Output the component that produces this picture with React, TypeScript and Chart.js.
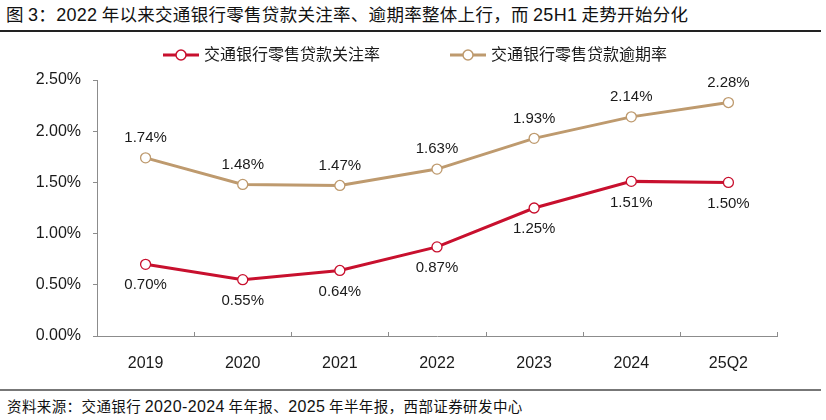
import React, { useEffect, useRef } from "react";
import { Chart, registerables } from "chart.js";

Chart.register(...registerables);

const categories = ["2019", "2020", "2021", "2022", "2023", "2024", "25Q2"];
const attentionRate = [0.7, 0.55, 0.64, 0.87, 1.25, 1.51, 1.5];
const overdueRate = [1.74, 1.48, 1.47, 1.63, 1.93, 2.14, 2.28];
const seriesNames = ["交通银行零售贷款关注率", "交通银行零售贷款逾期率"];
const yTicks = [0, 0.5, 1.0, 1.5, 2.0, 2.5];

const RED = "#C8102E";
const TAN = "#BE9A6E";
const AXIS = "#8c8c8c";
const LATIN = '"Liberation Sans", Arial, Helvetica, sans-serif';
const CJK = '"Liberation Sans", "Noto Sans CJK SC", sans-serif';

const labelPlugin = {
  id: "valueLabels",
  afterDatasetsDraw(chart: any) {
    const ctx = chart.ctx;
    ctx.save();
    ctx.font = `15px ${LATIN}`;
    ctx.fillStyle = "#1a1a1a";
    ctx.textAlign = "center";
    ctx.textBaseline = "middle";
    chart.data.datasets.forEach((ds: any, di: number) => {
      const meta = chart.getDatasetMeta(di);
      meta.data.forEach((pt: any, i: number) => {
        const v = ds.data[i] as number;
        const dy = di === 0 ? 21 : -20;
        ctx.fillText(v.toFixed(2) + "%", pt.x, pt.y + dy);
      });
    });
    ctx.restore();
  },
};

const xTickPlugin = {
  id: "inwardXTicks",
  afterDraw(chart: any) {
    const xs = chart.scales.x;
    const ctx = chart.ctx;
    const n = categories.length;
    ctx.save();
    ctx.strokeStyle = AXIS;
    ctx.lineWidth = 1;
    for (let i = 1; i <= n; i++) {
      let x: number;
      if (i === n) x = xs.right;
      else x = (xs.getPixelForValue(i - 1) + xs.getPixelForValue(i)) / 2;
      x = Math.round(x) + 0.5;
      ctx.beginPath();
      ctx.moveTo(x, xs.top);
      ctx.lineTo(x, xs.top - 4);
      ctx.stroke();
    }
    ctx.restore();
  },
};

const legendPlugin = {
  id: "customLegend",
  afterDraw(chart: any) {
    const ctx = chart.ctx;
    ctx.save();
    ctx.font = `16px ${CJK}`;
    ctx.textBaseline = "middle";
    const colors = [RED, TAN];
    const lineW = 36;
    const gap = 5;
    const itemGap = 70;
    const widths = seriesNames.map((s) => lineW + gap + ctx.measureText(s).width);
    const total = widths[0] + widths[1] + itemGap;
    let x = chart.width / 2 - total / 2 + 2;
    const y = 23;
    seriesNames.forEach((name, i) => {
      ctx.strokeStyle = colors[i];
      ctx.lineWidth = 3;
      ctx.beginPath();
      ctx.moveTo(x, y);
      ctx.lineTo(x + lineW, y);
      ctx.stroke();
      ctx.beginPath();
      ctx.fillStyle = "#fff";
      ctx.lineWidth = 1.5;
      ctx.arc(x + lineW / 2, y, 5, 0, Math.PI * 2);
      ctx.fill();
      ctx.stroke();
      ctx.fillStyle = "#1a1a1a";
      ctx.textAlign = "left";
      ctx.fillText(name, x + lineW + gap, y + 1);
      x += widths[i] + itemGap;
    });
    ctx.restore();
  },
};

const num = (t: string, size: number) => (
  <span style={{ fontFamily: LATIN, fontSize: size }}>{t}</span>
);

export default function App() {
  const ref = useRef<HTMLCanvasElement | null>(null);

  useEffect(() => {
    if (!ref.current) return;
    const chart = new Chart(ref.current, {
      type: "line",
      data: {
        labels: categories,
        datasets: [
          {
            label: seriesNames[0],
            data: attentionRate,
            borderColor: RED,
            borderWidth: 3,
            pointRadius: 5,
            pointBackgroundColor: "#fff",
            pointBorderColor: RED,
            pointBorderWidth: 1.3,
            tension: 0,
          },
          {
            label: seriesNames[1],
            data: overdueRate,
            borderColor: TAN,
            borderWidth: 3,
            pointRadius: 5,
            pointBackgroundColor: "#fff",
            pointBorderColor: TAN,
            pointBorderWidth: 1.3,
            tension: 0,
          },
        ],
      },
      options: {
        animation: false,
        responsive: false,
        maintainAspectRatio: false,
        layout: { padding: { top: 48, right: 49, left: 0, bottom: 0 } },
        plugins: {
          legend: { display: false },
          title: { display: false },
          tooltip: { enabled: false },
        },
        scales: {
          x: {
            offset: true,
            grid: { display: false },
            border: { display: true, color: AXIS, width: 1 },
            ticks: {
              color: "#1a1a1a",
              font: { family: LATIN, size: 16 },
              padding: 10,
              maxRotation: 0,
            },
            afterFit(scale: any) {
              scale.height = 52;
            },
          },
          y: {
            min: 0,
            max: 2.5,
            afterBuildTicks(scale: any) {
              scale.ticks = yTicks.map((v) => ({ value: v }));
            },
            grid: {
              display: true,
              drawOnChartArea: false,
              drawTicks: true,
              tickLength: 4,
              color: AXIS,
            },
            border: { display: true, color: AXIS, width: 1 },
            ticks: {
              color: "#1a1a1a",
              font: { family: LATIN, size: 16 },
              padding: 12,
              callback: (v: any) => Number(v).toFixed(2) + "%",
            },
            afterFit(scale: any) {
              scale.width = 97;
            },
          },
        },
      },
      plugins: [labelPlugin, xTickPlugin, legendPlugin],
    });
    return () => chart.destroy();
  }, []);

  return (
    <div
      style={{
        position: "absolute",
        left: 0,
        top: 0,
        width: 826,
        height: 420,
        background: "#fff",
        overflow: "hidden",
      }}
    >
      <div
        style={{
          position: "absolute",
          left: 6,
          top: 3,
          fontFamily: '"Noto Sans CJK SC", sans-serif',
          fontSize: 17.5,
          letterSpacing: 0.3,
          color: "#111",
          whiteSpace: "nowrap",
          lineHeight: "22px",
        }}
      >
        图 {num("3", 18)}：{num("2022", 18)} 年以来交通银行零售贷款关注率、逾期率整体上行，而 {num("25H1", 18)} 走势开始分化
      </div>
      <div
        style={{
          position: "absolute",
          left: 0,
          top: 30,
          width: 821,
          height: 1.5,
          background: "#222",
        }}
      />
      <canvas
        ref={ref}
        width={826}
        height={356}
        style={{ position: "absolute", left: 0, top: 32, width: 826, height: 356 }}
      />
      <div
        style={{
          position: "absolute",
          left: 0,
          top: 389,
          width: 821,
          height: 1.5,
          background: "#777",
        }}
      />
      <div
        style={{
          position: "absolute",
          left: 7,
          top: 397,
          fontFamily: '"Noto Sans CJK SC", sans-serif',
          fontSize: 14.5,
          letterSpacing: 0.4,
          color: "#111",
          whiteSpace: "nowrap",
          lineHeight: "18px",
        }}
      >
        资料来源：交通银行 {num("2020-2024", 16)} 年年报、{num("2025", 16)} 年半年报，西部证券研发中心
      </div>
    </div>
  );
}
